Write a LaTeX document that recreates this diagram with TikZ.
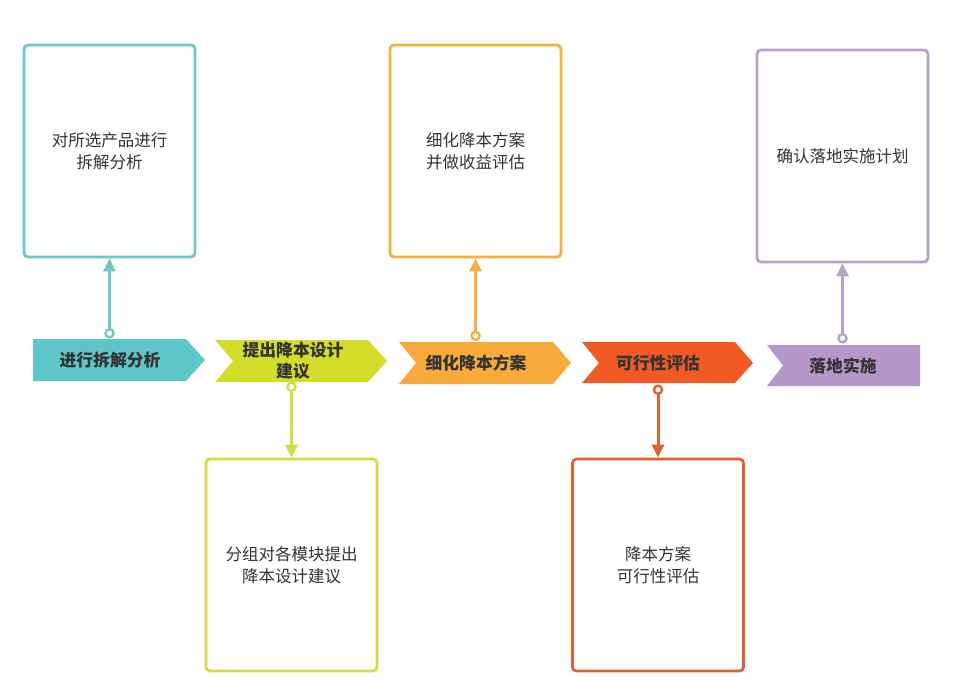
\documentclass[tikz,border=0pt]{standalone}
\usepackage{fontspec}
\newfontfamily\cjk{Noto Sans CJK SC}
\usetikzlibrary{arrows.meta}
\definecolor{cTeal}{HTML}{5EC6C8}
\definecolor{cTealL}{HTML}{6FC7C7}
\definecolor{cYel}{HTML}{D5DD2B}
\definecolor{cYelL}{HTML}{D5DC44}
\definecolor{cOra}{HTML}{F8AA3C}
\definecolor{cOraL}{HTML}{F4B042}
\definecolor{cRed}{HTML}{F15A24}
\definecolor{cRedL}{HTML}{E0622F}
\definecolor{cPur}{HTML}{B597CA}
\definecolor{cPurL}{HTML}{B8A0CC}
\definecolor{txt}{HTML}{333333}
\tikzset{
  stepbox/.style={draw=#1, line width=2.8pt, rounded corners=4pt, fill=white,
    minimum width=171pt, minimum height=212pt, inner sep=0pt,
    align=center, font=\cjk\fontsize{16.5}{21.5}\selectfont, text=txt},
  chevtext/.style={align=center, font=\cjk\bfseries\fontsize{16.8}{21}\selectfont, text=txt, inner sep=0pt},
  link/.style={draw=#1, line width=3pt,
    {Circle[fill=white,length=10.5pt,width=10.5pt,line width=2.4pt]}-{Triangle[length=13pt,width=12pt]}}
}
\begin{document}
\begin{tikzpicture}[x=1pt,y=-1pt]
\useasboundingbox[fill=white] (0,0) rectangle (953,677);
% chevrons
\fill[cTeal] (33,339) -- (186,339) -- (205,360) -- (186,381) -- (33,381) -- cycle;
\fill[cYel] (215,340) -- (368,340) -- (387,361) -- (368,382) -- (215,382) -- (233,361) -- cycle;
\fill[cOra] (399,342) -- (553,342) -- (571,363) -- (553,384) -- (399,384) -- (416,363) -- cycle;
\fill[cRed] (582,342) -- (735,342) -- (753,363) -- (735,383) -- (582,383) -- (599,363) -- cycle;
\fill[cPur] (767,345) -- (920,345) -- (920,386) -- (767,386) -- (783,365.5) -- cycle;
% chevron texts
\node[chevtext] (c1) at (110,360) {进行拆解分析};
\node[chevtext] (c2) at (293,361) {提出降本设计\\建议};
\node[chevtext] (c3) at (476,363) {细化降本方案};
\node[chevtext] (c4) at (658,363) {可行性评估};
\node[chevtext] (c5) at (843,365.5) {落地实施};
% boxes
\node[stepbox=cTealL] (b1) at (109.5,151) {对所选产品进行\\拆解分析};
\node[stepbox=cYelL] (b2) at (291.5,565) {分组对各模块提出\\降本设计建议};
\node[stepbox=cOraL] (b3) at (475.5,151) {细化降本方案\\并做收益评估};
\node[stepbox=cRedL] (b4) at (658,565) {降本方案\\可行性评估};
\node[stepbox=cPurL] (b5) at (842.5,156) {确认落地实施计划};
% connector anchors
\coordinate (p1) at (109.5,338.5);
\coordinate (p2) at (291.5,381.5);
\coordinate (p3) at (475.5,341);
\coordinate (p4) at (658,384.5);
\coordinate (p5) at (842.5,343.5);
\draw[link=cTealL] (p1) -- (b1.south);
\draw[link=cYelL] (p2) -- (b2.north);
\draw[link=cOraL] (p3) -- (b3.south);
\draw[link=cRedL] (p4) -- (b4.north);
\draw[link=cPurL] (p5) -- (b5.south);
\end{tikzpicture}
\end{document}
